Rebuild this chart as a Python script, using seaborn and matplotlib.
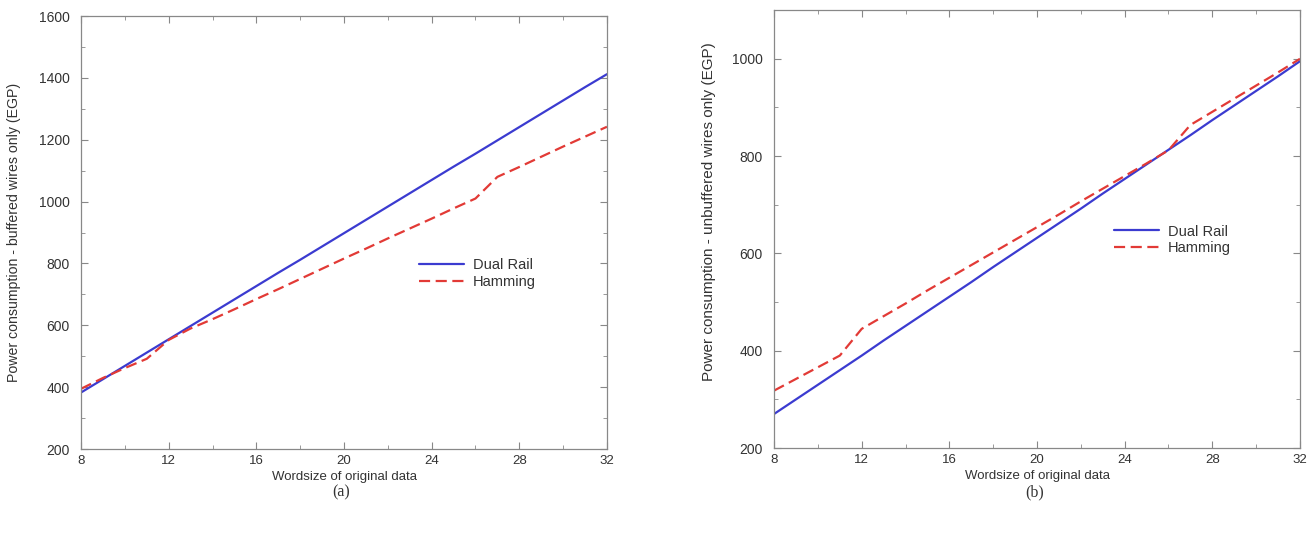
import numpy as np
import pandas as pd
import matplotlib
matplotlib.use("Agg")
import matplotlib.pyplot as plt
import seaborn as sb
from matplotlib.ticker import MultipleLocator

# wordsize axis
wordsize = list(range(8, 33))

# (a) buffered wires
dual_rail_a = [383, 426, 469, 512, 555, 598, 641, 684, 727, 770, 812, 855, 898,
               941, 984, 1027, 1070, 1113, 1155, 1198, 1241, 1284, 1327, 1370, 1412]
hamming_a = [395, 430, 462, 492, 553, 590, 620, 652, 685, 717, 750, 783, 816,
             848, 881, 913, 945, 978, 1010, 1080, 1112, 1145, 1178, 1210, 1242]

# (b) unbuffered wires
dual_rail_b = [270, 300, 330, 360, 390, 421, 451, 481, 511, 541, 572, 602, 632,
               662, 692, 723, 753, 783, 813, 843, 874, 904, 934, 964, 995]
hamming_b = [318, 342, 366, 390, 445, 471, 497, 524, 550, 576, 602, 628, 654,
             680, 707, 733, 759, 785, 812, 864, 891, 918, 945, 972, 1000]

sb.set_style("ticks")
plt.rcParams['font.family'] = ['Liberation Sans', 'DejaVu Sans']

blue = '#3b3bd0'
red = '#e23a36'
txt = '#333333'

fig = plt.figure(figsize=(13.16, 5.34), dpi=100)
ax1 = fig.add_axes([0.0616, 0.159, 0.3996, 0.811])
ax2 = fig.add_axes([0.5882, 0.161, 0.3996, 0.820])


def draw(ax, dual, ham, ylim, ylabel, ylab_size, ylab_xy, legend_pos):
    df = pd.DataFrame({'wordsize': wordsize * 2,
                       'power': dual + ham,
                       'scheme': ['Dual Rail'] * len(dual) + ['Hamming'] * len(ham)})
    sb.lineplot(data=df, x='wordsize', y='power', hue='scheme', style='scheme',
                palette={'Dual Rail': blue, 'Hamming': red},
                dashes={'Dual Rail': '', 'Hamming': (5, 2.5)},
                linewidth=1.6, ax=ax)
    ax.set_xlim(8, 32)
    ax.set_ylim(*ylim)
    ax.xaxis.set_major_locator(MultipleLocator(4))
    ax.xaxis.set_minor_locator(MultipleLocator(2))
    ax.yaxis.set_major_locator(MultipleLocator(200))
    ax.yaxis.set_minor_locator(MultipleLocator(100))
    ax.tick_params(which='both', direction='in', top=True, right=True,
                   colors='#888888', labelcolor=txt)
    ax.tick_params(which='major', length=5, width=0.8)
    ax.tick_params(which='minor', length=3, width=0.6)
    ax.tick_params(axis='x', pad=4, labelsize=9.5)
    ax.tick_params(axis='y', pad=8, labelsize=10)
    for s in ax.spines.values():
        s.set_color('#888888')
        s.set_linewidth(0.9)
    ax.set_xlabel('Wordsize of original data', fontsize=9.5, color=txt, labelpad=3)
    ax.set_ylabel(ylabel, fontsize=ylab_size, color=txt)
    ax.yaxis.set_label_coords(*ylab_xy)
    leg = ax.legend(loc='upper left', bbox_to_anchor=legend_pos, frameon=False,
                    fontsize=10.5, handlelength=3.1, handletextpad=0.6,
                    labelspacing=0.15, borderpad=0, title=None)
    for t in leg.get_texts():
        t.set_color(txt)


draw(ax1, dual_rail_a, hamming_a, (200, 1600),
     'Power consumption - buffered wires only (EGP)', 10.2, (-0.114, 0.50), (0.628, 0.457))
draw(ax2, dual_rail_b, hamming_b, (200, 1100),
     'Power consumption - unbuffered wires only (EGP)', 11, (-0.111, 0.54), (0.632, 0.527))

fig.text(0.259, 0.077, '(a)', ha='center', va='center', fontsize=11.5,
         family=['Liberation Serif', 'DejaVu Serif'], color=txt)
fig.text(0.7865, 0.077, '(b)', ha='center', va='center', fontsize=11.5,
         family=['Liberation Serif', 'DejaVu Serif'], color=txt)

fig.savefig('out.png', dpi=100)
